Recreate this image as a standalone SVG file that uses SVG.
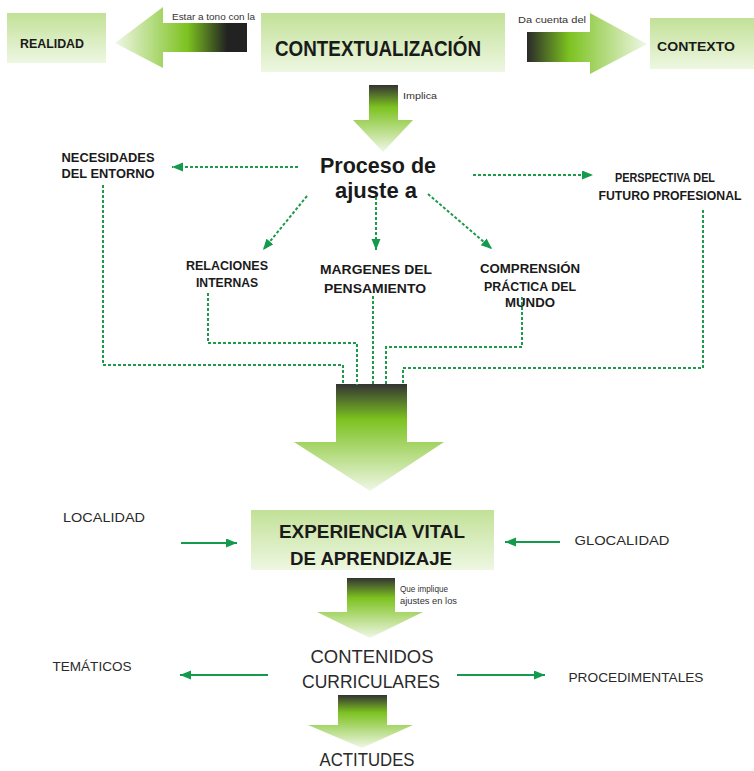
<svg xmlns="http://www.w3.org/2000/svg" width="754" height="771" viewBox="0 0 754 771">
<defs>
<style>
.b{font-family:"Liberation Sans",Arial,sans-serif;font-weight:bold;fill:#1a1a1a;text-anchor:middle}
.r{font-family:"Liberation Sans",Arial,sans-serif;fill:#2a2a2a;text-anchor:middle}
.s{font-family:"Liberation Sans",Arial,sans-serif;fill:#333;font-size:9px}
.dot{fill:none;stroke:#1f9a4a;stroke-width:2;stroke-dasharray:3 2}
.sol{fill:none;stroke:#139a4c;stroke-width:2}
</style>
<linearGradient id="box" x1="0" y1="0" x2="0" y2="1">
<stop offset="0" stop-color="#c2e197"/>
<stop offset="1" stop-color="#eef7e2"/>
</linearGradient>
<linearGradient id="down" x1="0" y1="0" x2="0" y2="1">
<stop offset="0" stop-color="#333333"/>
<stop offset="0.33" stop-color="#7cc220"/>
<stop offset="1" stop-color="#f0f7e6"/>
</linearGradient>
<linearGradient id="lft" gradientUnits="userSpaceOnUse" x1="115" y1="0" x2="247" y2="0">
<stop offset="0" stop-color="#f0f7e6"/>
<stop offset="0.55" stop-color="#7cc220"/>
<stop offset="0.85" stop-color="#222222"/>
<stop offset="1" stop-color="#222222"/>
</linearGradient>
<linearGradient id="rgt" gradientUnits="userSpaceOnUse" x1="527" y1="0" x2="647" y2="0">
<stop offset="0" stop-color="#2a2a2a"/>
<stop offset="0.35" stop-color="#7cc220"/>
<stop offset="1" stop-color="#f0f7e6"/>
</linearGradient>
<marker id="ah" markerUnits="userSpaceOnUse" markerWidth="12" markerHeight="10" refX="11" refY="4.5" orient="auto">
<path d="M0,0 L11,4.5 L0,9 z" fill="#139a4c"/>
</marker>
</defs>

<g id="realidad">
<rect x="7" y="13" width="99" height="50" fill="url(#box)"/>
<text class="b" x="52" y="48" font-size="13" textLength="64" lengthAdjust="spacingAndGlyphs">REALIDAD</text>
</g>
<g id="arrow-realidad">
<path d="M115,43 L163,7 L163,23 L247,23 L247,52 L163,52 L163,68 Z" fill="url(#lft)"/>
<text class="s" x="172" y="20" textLength="83" lengthAdjust="spacingAndGlyphs">Estar a tono con la</text>
</g>
<g id="contextualizacion">
<rect x="261" y="13" width="244" height="59" fill="url(#box)"/>
<text class="b" x="378" y="56" font-size="22" textLength="206" lengthAdjust="spacingAndGlyphs">CONTEXTUALIZACIÓN</text>
</g>
<g id="arrow-contexto">
<path d="M527,32 L590,32 L590,13 L647,44 L590,74 L590,62 L527,62 Z" fill="url(#rgt)"/>
<text class="s" x="518" y="23" textLength="68" lengthAdjust="spacingAndGlyphs">Da cuenta del</text>
</g>
<g id="contexto">
<rect x="650" y="18" width="104" height="51" fill="url(#box)"/>
<text class="b" x="696" y="51" font-size="13" textLength="78" lengthAdjust="spacingAndGlyphs">CONTEXTO</text>
</g>
<g id="arrow-implica">
<path d="M369,85 L398,85 L398,120 L413,120 L383,152 L353,120 L369,120 Z" fill="url(#down)"/>
<text class="s" x="403" y="99" textLength="34" lengthAdjust="spacingAndGlyphs">Implica</text>
</g>
<g id="proceso">
<text class="b" x="378" y="173" font-size="22" textLength="116" lengthAdjust="spacingAndGlyphs">Proceso de</text>
<text class="b" x="376" y="198" font-size="22" textLength="82" lengthAdjust="spacingAndGlyphs">ajuste a</text>
</g>
<g id="necesidades">
<text class="b" x="108" y="162" font-size="12" textLength="93" lengthAdjust="spacingAndGlyphs">NECESIDADES</text>
<text class="b" x="108" y="178" font-size="12" textLength="93" lengthAdjust="spacingAndGlyphs">DEL ENTORNO</text>
</g>
<g id="perspectiva">
<text class="b" x="665" y="182" font-size="12" textLength="100" lengthAdjust="spacingAndGlyphs">PERSPECTIVA DEL</text>
<text class="b" x="670" y="200" font-size="12" textLength="143" lengthAdjust="spacingAndGlyphs">FUTURO PROFESIONAL</text>
</g>
<g id="relaciones">
<text class="b" x="227" y="270" font-size="12" textLength="82" lengthAdjust="spacingAndGlyphs">RELACIONES</text>
<text class="b" x="227" y="287" font-size="12" textLength="62" lengthAdjust="spacingAndGlyphs">INTERNAS</text>
</g>
<g id="margenes">
<text class="b" x="376" y="274" font-size="13" textLength="112" lengthAdjust="spacingAndGlyphs">MARGENES DEL</text>
<text class="b" x="375" y="293" font-size="13" textLength="102" lengthAdjust="spacingAndGlyphs">PENSAMIENTO</text>
</g>
<g id="comprension">
<text class="b" x="530" y="273" font-size="12" textLength="100" lengthAdjust="spacingAndGlyphs">COMPRENSIÓN</text>
<text class="b" x="530" y="291" font-size="12" textLength="92" lengthAdjust="spacingAndGlyphs">PRÁCTICA DEL</text>
<text class="b" x="530" y="307" font-size="12" textLength="50" lengthAdjust="spacingAndGlyphs">MUNDO</text>
</g>
<g id="arrow-big">
<path d="M336,384 L407,384 L407,442 L444,442 L370,491 L294,442 L336,442 Z" fill="url(#down)"/>
</g>
<g id="experiencia">
<rect x="251" y="510" width="243" height="60" fill="url(#box)"/>
<text class="b" x="372" y="538" font-size="19" textLength="186" lengthAdjust="spacingAndGlyphs">EXPERIENCIA VITAL</text>
<text class="b" x="371" y="565" font-size="19" textLength="162" lengthAdjust="spacingAndGlyphs">DE APRENDIZAJE</text>
</g>
<g id="localidad">
<text class="r" x="104" y="522" font-size="13" textLength="82" lengthAdjust="spacingAndGlyphs">LOCALIDAD</text>
</g>
<g id="glocalidad">
<text class="r" x="622" y="545" font-size="13" textLength="95" lengthAdjust="spacingAndGlyphs">GLOCALIDAD</text>
</g>
<g id="arrow-que">
<path d="M347,578 L395,578 L395,612 L423,612 L370,638 L317,612 L347,612 Z" fill="url(#down)"/>
<text class="s" x="400" y="592" font-size="8.5" textLength="48" lengthAdjust="spacingAndGlyphs">Que implique</text>
<text class="s" x="400" y="604" font-size="8.5" textLength="57" lengthAdjust="spacingAndGlyphs">ajustes en los</text>
</g>
<g id="contenidos">
<text class="r" x="372" y="663" font-size="18" textLength="123" lengthAdjust="spacingAndGlyphs">CONTENIDOS</text>
<text class="r" x="371" y="688" font-size="18" textLength="138" lengthAdjust="spacingAndGlyphs">CURRICULARES</text>
</g>
<g id="tematicos">
<text class="r" x="92" y="671" font-size="13" textLength="79" lengthAdjust="spacingAndGlyphs">TEMÁTICOS</text>
</g>
<g id="procedimentales">
<text class="r" x="636" y="682" font-size="13" textLength="135" lengthAdjust="spacingAndGlyphs">PROCEDIMENTALES</text>
</g>
<g id="arrow-actitudes">
<path d="M338,695 L387,695 L387,725 L413,725 L362,748 L308,725 L338,725 Z" fill="url(#down)"/>
</g>
<g id="actitudes">
<text class="r" x="367" y="766" font-size="18" textLength="95" lengthAdjust="spacingAndGlyphs">ACTITUDES</text>
</g>

<g id="connectors">
<path class="dot" d="M298,167 L172,167" marker-end="url(#ah)"/>
<path class="dot" d="M473,175 L593,175" marker-end="url(#ah)"/>
<path class="dot" d="M307,196 L263,250" marker-end="url(#ah)"/>
<path class="dot" d="M376,197 L376,250" marker-end="url(#ah)"/>
<path class="dot" d="M428,194 L492,249" marker-end="url(#ah)"/>
<path class="dot" d="M103,185 L103,365 L343,365 L343,385"/>
<path class="dot" d="M208,293 L208,343 L357,343 L357,385"/>
<path class="dot" d="M373,296 L373,385"/>
<path class="dot" d="M522,297 L522,347 L386,347 L386,385"/>
<path class="dot" d="M703,210 L703,368 L403,368 L403,385"/>
<path class="sol" d="M181,543 L237,543" marker-end="url(#ah)"/>
<path class="sol" d="M560,542 L505,542" marker-end="url(#ah)"/>
<path class="sol" d="M268,675 L180,675" marker-end="url(#ah)"/>
<path class="sol" d="M457,675 L545,675" marker-end="url(#ah)"/>
</g>
</svg>
